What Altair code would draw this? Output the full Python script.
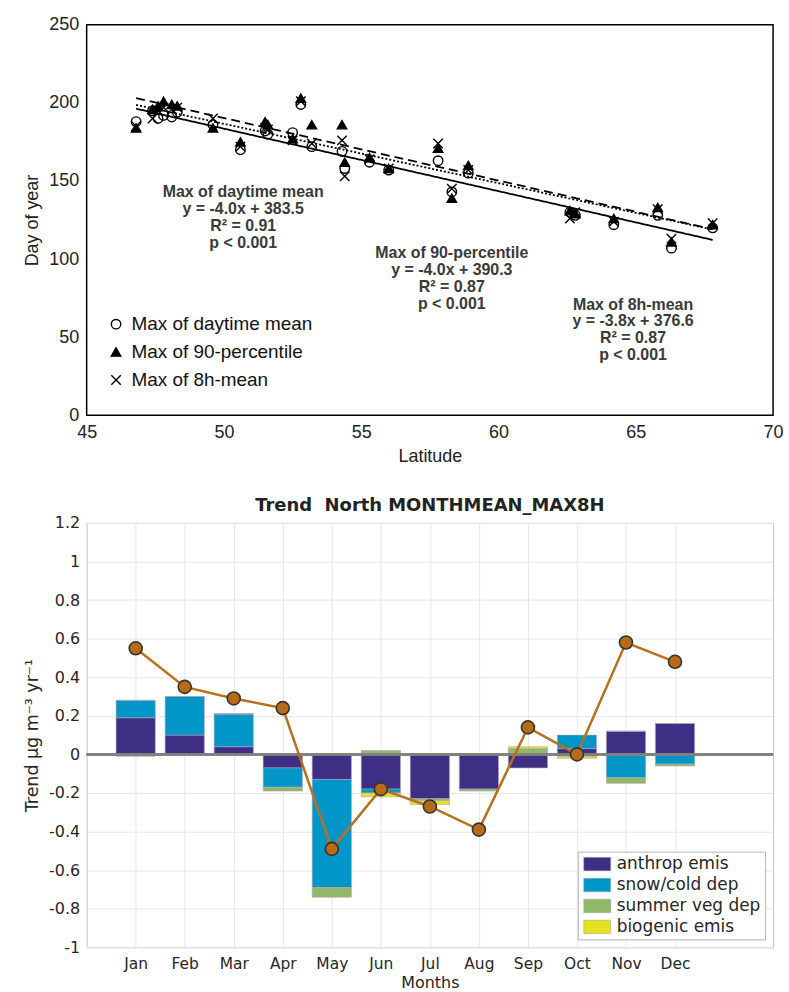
import altair as alt
import pandas as pd

# ---------------- Top panel data ----------------
lat = [46.8, 47.4, 47.6, 47.8, 48.1, 48.3, 49.6, 50.6, 51.5, 51.6, 52.5, 52.8, 53.2,
       54.3, 54.4, 55.3, 56.0, 57.8, 58.3, 58.9, 62.6, 62.8, 64.2, 65.8, 66.3, 67.8]
daytime_mean = [188, 195, 190, 192, 191, 194, 186, 170, 182, 180, 181, 199, 172,
                169, 158, 162, 157, 163, 143, 155, 130, 128, 122, 128, 107, 120]
pct90 = [184, 196, 198, 201, 199, 198, 184, 175, 188, 186, 177, 203, 186,
         186, 162, 165, 158, 171, 139, 160, 131, 129, 126, 133, 111, 122]
mean8h = [185, 190, 195, 197, 196, 197, 190, 172, 184, 183, 176, 201, 174,
          176, 153, 164, 158, 174, 145, 157, 126, 130, 124, 132, 113, 123]

series_names = ["Max of daytime mean", "Max of 90-percentile", "Max of 8h-mean"]
fit_slope = [-4.0, -4.0, -3.8]
fit_intercept = [383.5, 390.3, 376.6]
fit_r2 = ["0.91", "0.87", "0.87"]
fit_p = ["p < 0.001", "p < 0.001", "p < 0.001"]
label_lat = [50.7, 58.3, 64.9]
label_val = [148, 109, 76]

# ---------------- Bottom panel data ----------------
months = ["Jan", "Feb", "Mar", "Apr", "May", "Jun", "Jul", "Aug", "Sep", "Oct", "Nov", "Dec"]
components = ["anthrop emis", "snow/cold dep", "summer veg dep", "biogenic emis"]
anthrop = [0.19, 0.10, 0.04, -0.07, -0.13, -0.18, -0.23, -0.18, -0.07, 0.03, 0.12, 0.16]
snow = [0.09, 0.20, 0.17, -0.10, -0.56, -0.02, 0.0, 0.0, 0.0, 0.07, -0.12, -0.05]
vegdep = [-0.01, 0.0, 0.0, -0.02, -0.05, 0.02, -0.01, -0.01, 0.03, -0.01, -0.03, -0.01]
biogenic = [0.0, 0.0, 0.0, 0.0, 0.0, -0.02, -0.02, 0.0, 0.01, -0.01, 0.0, 0.0]
total = [0.55, 0.35, 0.29, 0.24, -0.49, -0.18, -0.27, -0.39, 0.14, 0.0, 0.58, 0.48]

comp_colors = ["#3e2f85", "#0096c7", "#91b768", "#e6e11e"]

X_PATH = "M-1,-1L1,1M-1,1L1,-1"
RECT_PATH = "M-2,-1H2V1H-2Z"
TOP_FONT = "Liberation Sans"
BOT_FONT = "DejaVu Sans"

# ---------------- Build top tables ----------------
rows = []
for name, vals in zip(series_names, [daytime_mean, pct90, mean8h]):
    for la, v in zip(lat, vals):
        rows.append({"lat": la, "value": v, "series": name})
pts = pd.DataFrame(rows)

lrows = []
for name, s, b in zip(series_names, fit_slope, fit_intercept):
    for la in [min(lat), max(lat)]:
        lrows.append({"lat": la, "value": s * la + b, "series": name})
lines = pd.DataFrame(lrows)

ann = pd.DataFrame({
    "lat": label_lat,
    "value": label_val,
    "txt": [f"{n}\ny = {s:.1f}x + {b}\nR\u00b2 = {r}\n{p}"
            for n, s, b, r, p in zip(series_names, fit_slope, fit_intercept, fit_r2, fit_p)],
})

xs = alt.Scale(domain=[45, 70], nice=False)
ys = alt.Scale(domain=[0, 250], nice=False)

top_x = alt.X("lat:Q", scale=xs, axis=alt.Axis(
    values=[45, 50, 55, 60, 65, 70], tickCount=20, title="Latitude", grid=False, ticks=False,
    domain=False, labelFlush=False, labelOverlap=False,
    labelFont=TOP_FONT, labelFontSize=18, labelColor="#222", labelPadding=8,
    titleFont=TOP_FONT, titleFontSize=18, titleFontWeight="normal", titleColor="#222", titlePadding=6))
top_y = alt.Y("value:Q", scale=ys, axis=alt.Axis(
    values=[0, 50, 100, 150, 200, 250], tickCount=20, title="Day of year", grid=False, ticks=False,
    domain=False, labelFlush=False, labelOverlap=False,
    labelFont=TOP_FONT, labelFontSize=18, labelColor="#222", labelPadding=8,
    minExtent=40, maxExtent=40,
    titleFont=TOP_FONT, titleFontSize=18, titleFontWeight="normal", titleColor="#222", titlePadding=5))

top_legend = alt.Legend(title=None, orient="none", legendX=20, legendY=291,
                        labelFont=TOP_FONT, labelFontSize=19, labelColor="#111", labelLimit=400,
                        symbolSize=90, symbolStrokeColor="black", symbolStrokeWidth=1.4,
                        rowPadding=8, labelOffset=6)

fit_lines = alt.Chart(lines).mark_line(color="black", strokeWidth=1.8).encode(
    x=top_x, y=top_y,
    strokeDash=alt.StrokeDash("series:N", scale=alt.Scale(domain=series_names,
                              range=[[1, 0], [9, 5], [2, 2]]), legend=None),
    detail="series:N",
)

points = alt.Chart(pts).mark_point(size=90, strokeWidth=1.4, opacity=1).encode(
    x=top_x, y=top_y,
    shape=alt.Shape("series:N", scale=alt.Scale(domain=series_names,
                    range=["circle", "triangle-up", X_PATH]), legend=top_legend),
    fill=alt.Fill("series:N", scale=alt.Scale(domain=series_names,
                  range=["transparent", "black", "transparent"]), legend=top_legend),
    stroke=alt.Stroke("series:N", scale=alt.Scale(domain=series_names,
                      range=["black", "black", "black"]), legend=top_legend),
)

annot = alt.Chart(ann).mark_text(lineBreak="\n", align="center", baseline="top",
                                 font=TOP_FONT, fontSize=16, fontWeight="bold",
                                 color="#3a3a3a", lineHeight=17).encode(
    x=alt.X("lat:Q", scale=xs), y=alt.Y("value:Q", scale=ys), text="txt:N")

top = alt.layer(fit_lines, points, annot).properties(
    width=689, height=392,
    view=alt.ViewBackground(stroke="black", strokeWidth=1.5),
)

# ---------------- Build bottom tables ----------------
brows = []
for ci, (cname, vals) in enumerate(zip(components, [anthrop, snow, vegdep, biogenic])):
    for mi, v in enumerate(vals):
        brows.append({"m": mi + 1, "comp": cname, "value": v, "ord": ci})
bars_df = pd.DataFrame(brows)
tot_df = pd.DataFrame({"m": list(range(1, 13)), "total": total, "month": months})

month_expr = str([""] + months) + "[datum.value]"
bx = alt.Scale(domain=[0, 14], nice=False)
by = alt.Scale(domain=[-1, 1.2], nice=False)

bot_x_axis = alt.Axis(values=list(range(1, 13)), tickCount=30, labelExpr=month_expr, title="Months",
                      grid=True, gridColor="#e6e6e6", ticks=False, domain=False,
                      labelFlush=False, labelOverlap=False,
                      labelFont=BOT_FONT, labelFontSize=15.5, labelColor="#262626", labelPadding=9,
                      titleFont=BOT_FONT, titleFontSize=16, titleFontWeight="normal",
                      titleColor="#262626", titlePadding=3)
yvals = [-1.0, -0.8, -0.6, -0.4, -0.2, 0.0, 0.2, 0.4, 0.6, 0.8, 1.0, 1.2]
bot_y_axis = alt.Axis(values=yvals, tickCount=30,
                      labelExpr="datum.value == 0 ? '0' : toString(round(datum.value * 10) / 10)",
                      title="Trend \u03bcg m\u207b\u00b3 yr\u207b\u00b9",
                      grid=True, gridColor="#e6e6e6", ticks=False, domain=False,
                      labelFlush=False, labelOverlap=False,
                      labelFont=BOT_FONT, labelFontSize=16, labelColor="#262626", labelPadding=7,
                      minExtent=40, maxExtent=40,
                      titleFont=BOT_FONT, titleFontSize=17.5, titleFontWeight="normal",
                      titleColor="#262626", titlePadding=5)

bars = alt.Chart(bars_df).transform_stack(
    stack="value", as_=["v0", "v1"], groupby=["m"],
    sort=[alt.SortField("ord", order="ascending")], offset="zero"
).transform_calculate(
    m0="datum.m - 0.4", m1="datum.m + 0.4"
).mark_bar(stroke="#a8a8b8", strokeWidth=0.6).encode(
    x=alt.X("m0:Q", scale=bx, axis=bot_x_axis),
    x2="m1:Q",
    y=alt.Y("v0:Q", scale=by, axis=bot_y_axis),
    y2="v1:Q",
    color=alt.Color("comp:N", scale=alt.Scale(domain=components, range=comp_colors),
                    legend=alt.Legend(title=None, orient="bottom-right", offset=8,
                                      fillColor="white", strokeColor="#b5b5b5", padding=4,
                                      symbolType=RECT_PATH, symbolSize=182, symbolOffset=7,
                                      symbolStrokeColor="#999", symbolStrokeWidth=0.5,
                                      labelFont=BOT_FONT, labelFontSize=17, labelColor="#262626",
                                      labelLimit=400, rowPadding=3, labelOffset=11)),
)

zero = alt.Chart(tot_df).mark_rule(color="#808080", strokeWidth=1.5).encode(y=alt.datum(0))

tline = alt.Chart(tot_df).mark_line(color="#b8701e", strokeWidth=2.5).encode(
    x=alt.X("m:Q", scale=bx), y=alt.Y("total:Q", scale=by))
tpts = alt.Chart(tot_df).mark_point(filled=True, shape="circle", size=170, fill="#b76b14",
                                    stroke="#333333", strokeWidth=1.6, opacity=1).encode(
    x=alt.X("m:Q", scale=bx), y=alt.Y("total:Q", scale=by))

bottom = alt.layer(bars, zero, tline, tpts).properties(
    width=689, height=426,
    title=alt.TitleParams("Trend\u00a0\u00a0North MONTHMEAN_MAX8H", font=BOT_FONT, fontSize=18,
                          fontWeight="bold", color="#222", offset=0),
    view=alt.ViewBackground(stroke="#c4c4c4", strokeWidth=1),
)

chart = alt.vconcat(top, bottom, spacing=30).properties(
    padding={"left": 23, "top": 13, "right": 5, "bottom": 2}
).resolve_scale(color="independent", shape="independent", fill="independent",
                stroke="independent", x="independent", y="independent").configure(background="white")

chart.save("out.html", embed_options={"renderer": "svg", "actions": False})
